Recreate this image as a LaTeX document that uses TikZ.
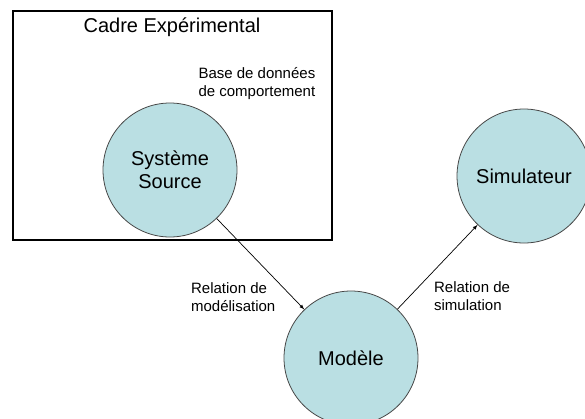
\documentclass[tikz,border=0pt]{standalone}
\usepackage{fontspec}
\setmainfont{Liberation Sans}
\definecolor{circfill}{RGB}{186,223,227}
\definecolor{circline}{RGB}{70,70,70}

\begin{document}
\begin{tikzpicture}[x=1pt, y=-1pt, >=latex,
                    main node/.style={circle,draw=circline,fill=circfill,line width=0.8pt,minimum size=134pt,inner sep=0pt,align=center,font=\fontsize{20}{23}\selectfont},
                    small text/.style={align=left,font=\fontsize{15}{18}\selectfont}]
  \path[use as bounding box, clip] (0,0) rectangle (585,418);

  \draw[line width=2.6pt] (13,11) rectangle (332,240);
  \node[font=\fontsize{20}{23}\selectfont] (4) at (172,27) {Cadre Expérimental};
  \node[small text, anchor=west] (5) at (195,84) {Base de données\\de comportement};

  \node[main node] (1) at (170,170) {Système\\Source};
  \node[main node] (2) at (351,358) {Modèle};
  \node[main node] (3) at (524,176) {Simulateur};

  \path[->, line width=0.7pt]
    (1) edge node[small text, pos=0.86, left=13pt] {Relation de\\modélisation} (2)
    (2) edge node[small text, pos=0.15, right=21pt] {Relation de\\simulation} (3);
\end{tikzpicture}
\end{document}
